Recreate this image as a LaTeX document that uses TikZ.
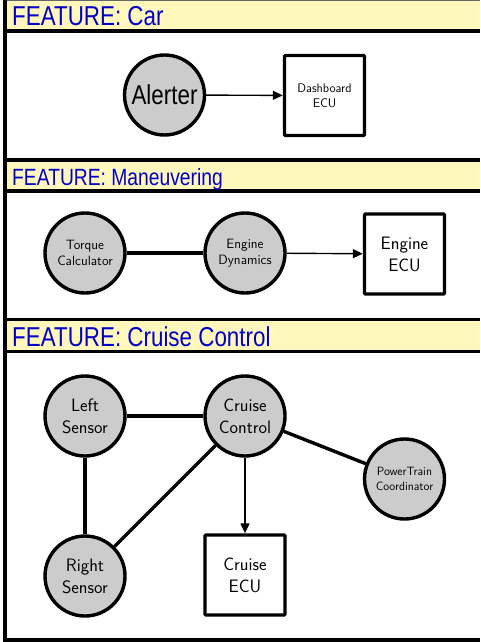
\documentclass[tikz,border=0pt]{standalone}
\usepackage{fontspec}
\newfontfamily\hdrfont[FakeStretch=0.82]{Liberation Sans}
\usetikzlibrary{arrows.meta}
\definecolor{hdrfill}{RGB}{255,247,188}
\definecolor{hdrblue}{RGB}{0,0,200}
\definecolor{compfill}{RGB}{204,204,204}
\tikzset{
  comp/.style={circle, draw, line width=3.4pt, fill=compfill, minimum size=80pt,
    inner sep=0pt, align=center},
  ecu/.style={rectangle, draw, line width=3.4pt, fill=white, minimum size=80pt,
    inner sep=0pt, align=center, rounded corners=1pt},
  big/.style={font=\sffamily\fontsize{18}{22}\selectfont},
  mid/.style={font=\sffamily\fontsize{13.5}{15.5}\selectfont},
  small/.style={font=\sffamily\fontsize{12.5}{15}\selectfont},
  tiny/.style={font=\sffamily\fontsize{12}{14.5}\selectfont},
  link/.style={line width=3.4pt},
  flow/.style={line width=1.4pt, -{Triangle[length=10pt,width=9pt]}},
  hdr/.style={anchor=base west, text=hdrblue, inner sep=0pt},
  band/.style={fill=hdrfill, draw=none},
  rule/.style={line width=3.2pt},
}
\begin{document}
\begin{tikzpicture}[x=1pt,y=1pt]
\useasboundingbox (0,0) rectangle (480,-642);

% header bands
\fill[band] (5,0) rectangle (480,-31);
\fill[band] (5,-160) rectangle (480,-191);
\fill[band] (5,-319.5) rectangle (480,-351.5);
\draw[black!60, line width=0.8pt] (5,-0.4) -- (480,-0.4);

% frame rules
\foreach \yy in {31,160,191,319.5,351.5,640}
  \draw[rule] (3.4,-\yy) -- (480,-\yy);
\draw[rule] (5,0) -- (5,-641.6);

% section titles
\node[hdr, font=\hdrfont\fontsize{27.3}{30}\selectfont] (t1) at (12,-26) {FEATURE: Car};
\node[hdr, font=\hdrfont\fontsize{23.5}{26}\selectfont] (t2) at (12,-185) {FEATURE: Maneuvering};
\node[hdr, font=\hdrfont\fontsize{27.3}{30}\selectfont] (t3) at (12,-346.5) {FEATURE: Cruise Control};

% Car
\node[comp, font=\hdrfont\fontsize{27.3}{30}\selectfont] (alert) at (164.5,-95) {Alerter};
\node[ecu, small] (dash) at (324.5,-95.5) {Dashboard\\ECU};
\draw[flow] (alert) -- (dash);

% Maneuvering
\node[comp, mid] (torque) at (85,-253) {Torque\\Calculator};
\node[comp, mid] (engdyn) at (245,-253) {Engine\\Dynamics};
\node[ecu, big] (engecu) at (404.5,-254) {Engine\\ECU};
\draw[link] (torque) -- (engdyn);
\draw[flow] (engdyn) -- (engecu);

% Cruise Control
\node[comp, big] (lsens) at (85,-416) {Left\\Sensor};
\node[comp, big] (cruise) at (245,-416) {Cruise\\Control};
\node[comp, tiny] (ptc) at (404.5,-479) {PowerTrain\\Coordinator};
\node[comp, big] (rsens) at (85,-576) {Right\\Sensor};
\node[ecu, big] (cecu) at (245,-575) {Cruise\\ECU};
\draw[link] (lsens) -- (cruise);
\draw[link] (lsens) -- (rsens);
\draw[link] (rsens) -- (cruise);
\draw[link] (cruise) -- (ptc);
\draw[flow] (cruise) -- (cecu);
\end{tikzpicture}
\end{document}
